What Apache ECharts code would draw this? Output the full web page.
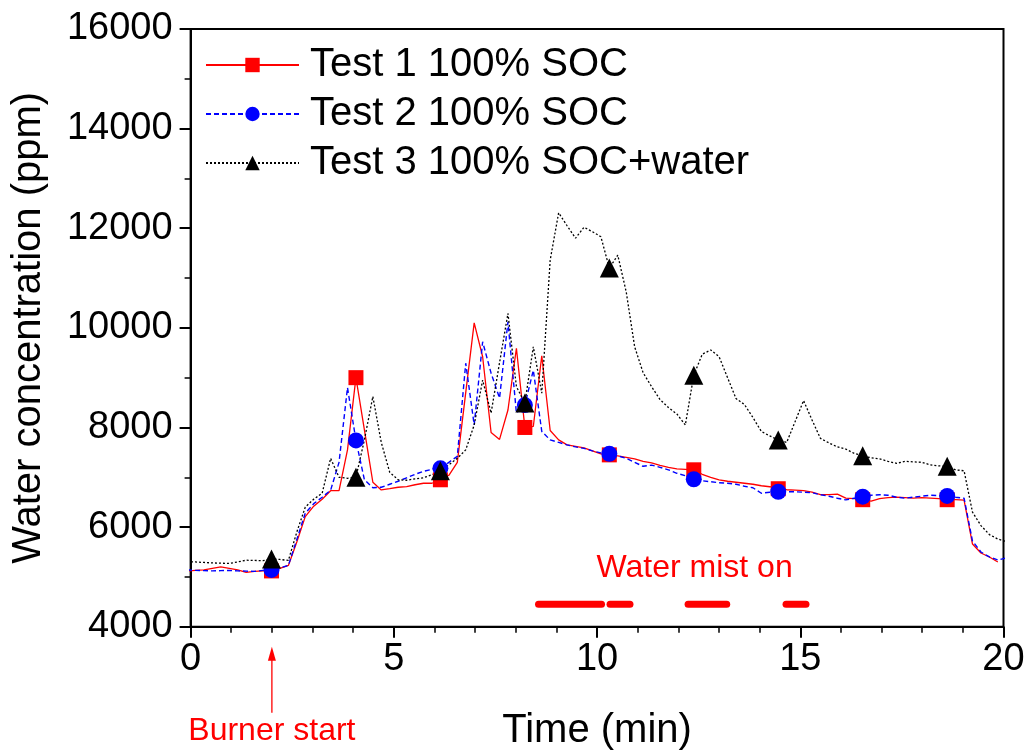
<!DOCTYPE html>
<html><head><meta charset="utf-8">
<script src="https://cdn.jsdelivr.net/npm/echarts@6/dist/echarts.min.js"></script>
<style>html,body{margin:0;padding:0;background:#fff}#c{width:1030px;height:751px}</style>
</head><body><div id="c"></div>
<script>
// ---- data ----
const time = [-0.088,0.120,0.328,0.535,0.743,0.951,1.159,1.367,1.574,1.782,
 1.990,2.198,2.406,2.613,2.821,3.029,3.237,3.445,3.652,3.860,
 4.068,4.276,4.484,4.691,4.899,5.107,5.315,5.523,5.730,5.938,
 6.146,6.354,6.562,6.769,6.977,7.185,7.393,7.601,7.808,8.016,
 8.224,8.432,8.640,8.847,9.055,9.263,9.471,9.679,9.886,10.094,
 10.302,10.510,10.718,10.925,11.133,11.341,11.549,11.757,11.964,12.172,
 12.380,12.588,12.796,13.003,13.211,13.419,13.627,13.835,14.042,14.250,
 14.458,14.666,14.874,15.081,15.289,15.497,15.705,15.913,16.120,16.328,
 16.536,16.744,16.952,17.159,17.367,17.575,17.783,17.991,18.198,18.406,
 18.614,18.822,19.030,19.237,19.445,19.653,19.861,20.069];

const test1 = [5120,5130,5140,5170,5200,5170,5140,5090,5110,5120,
 5120,5170,5230,5700,6210,6420,6560,6730,6730,7550,
 9000,7950,6900,6745,6770,6800,6811,6850,6880,6880,
 6950,7040,7300,8700,10100,9420,7900,7760,8350,9590,
 8000,8020,9440,7940,7750,7650,7620,7590,7530,7470,
 7450,7430,7400,7370,7320,7290,7240,7200,7170,7160,
 7150,7060,7000,6950,6920,6900,6880,6860,6830,6810,
 6770,6750,6740,6730,6700,6650,6650,6660,6580,6570,
 6550,6520,6570,6590,6600,6590,6580,6590,6580,6570,
 6550,6550,6540,5660,5480,5400,5300];

const test2 = [5140,5130,5125,5120,5125,5130,5120,5115,5110,5130,
 5140,5180,5230,5750,6280,6470,6600,6740,7300,8800,
 7740,6950,6790,6800,6860,6920,6990,7060,7120,7160,
 7180,7300,7420,9290,8050,9720,9090,8590,10120,8290,
 8450,9150,7920,7750,7700,7650,7610,7580,7530,7490,
 7470,7430,7380,7300,7220,7245,7200,7150,7080,7030,
 6960,6930,6910,6890,6880,6860,6820,6790,6680,6700,
 6710,6710,6710,6700,6690,6650,6620,6580,6545,6580,
 6610,6640,6650,6640,6600,6580,6600,6620,6640,6630,
 6625,6600,6580,5720,5500,5400,5340,5380];

const test3 = [5305,5300,5290,5280,5275,5270,5300,5335,5330,5325,
 5360,5350,5330,5900,6400,6560,6680,7380,7000,6980,
 7000,7750,8620,7700,7100,6950,6940,6970,6990,7050,
 7130,7250,7380,7550,8050,8950,8290,9300,10290,8820,
 8490,9620,8690,11360,12310,12050,11800,12020,11930,11830,
 11200,11460,10720,9620,9100,8820,8560,8400,8270,8050,
 9050,9470,9556,9420,9000,8580,8460,8200,7920,7830,
 7750,7700,8120,8540,8150,7780,7690,7610,7565,7480,
 7430,7390,7370,7320,7280,7320,7310,7300,7250,7230,
 7220,7150,7130,6300,6030,5850,5760,5710];

const markerIndex = [10,20,30,40,50,60,70,80,90];
const seriesNames = ['Test 1 100% SOC','Test 2 100% SOC','Test 3 100% SOC+water'];

const mistStart = [8.56, 10.32, 12.24, 14.65];
const mistEnd   = [10.11, 10.81, 13.19, 15.14];
const mistLevel = 4450;
const mistLabel = 'Water mist on';
const mistLabelAt = [12.40, 5180];
const burnerLabel = 'Burner start';
const burnerTime = 2.0;

const xTicks = {min:0, max:20, interval:5};
const yTicks = {min:4000, max:16000, interval:2000};

// ---- chart ----
const FONT = '"Liberation Sans", Arial, sans-serif';
const chart = echarts.init(document.getElementById('c'), null, {renderer:'canvas'});

function build(vals){
  return vals.map((v,i) => markerIndex.includes(i)
    ? {value:[time[i], v]}
    : {value:[time[i], v], symbol:'none'});
}

const mainSeries = [
  {name:seriesNames[0], vals:test1, color:'#ff0000', symbol:'rect', size:15, ls:{type:'solid', width:1.3}},
  {name:seriesNames[1], vals:test2, color:'#0000ff', symbol:'circle', size:16, ls:{type:[5,3], width:1.4}},
  {name:seriesNames[2], vals:test3, color:'#000000', symbol:'triangle', size:19, ls:{type:[2,2], width:1.3}}
].map(s => ({
  type:'line', name:s.name, data:build(s.vals),
  symbol:s.symbol, symbolSize:s.size, showSymbol:true, showAllSymbol:true,
  color:s.color, itemStyle:{color:s.color},
  lineStyle:Object.assign({color:s.color}, s.ls),
  clip:true, z:3
}));

const mistSeries = mistStart.map((s,k) => ({
  type:'line', name:'mist'+k, data:[[s, mistLevel],[mistEnd[k], mistLevel]],
  symbol:'none', lineStyle:{color:'#ff0000', width:7, cap:'round'}, z:2, silent:true
}));

const plain = v => String(v);

const axisCommon = {
  type:'value',
  axisLine:{show:true, onZero:false, lineStyle:{color:'#000', width:2}},
  axisTick:{show:true, inside:false, length:11, lineStyle:{color:'#000', width:2}},
  minorTick:{show:true, length:6, lineStyle:{color:'#000', width:1.5}},
  splitLine:{show:false},
  minorSplitLine:{show:false},
  axisLabel:{color:'#000', fontSize:38, fontFamily:FONT, formatter:plain},
  nameTextStyle:{color:'#000', fontSize:40, fontFamily:FONT},
  nameLocation:'middle'
};

chart.setOption({
  animation:false,
  backgroundColor:'#fff',
  grid:{left:190.6, right:26.5, top:29, bottom:124.3, show:true, borderColor:'#000', borderWidth:2,
        containLabel:false, outerBoundsMode:'none'},
  legend:{
    data:seriesNames, orient:'vertical', left:200, top:40,
    itemWidth:93, itemHeight:18, itemGap:9,
    textStyle:{color:'#000', fontSize:40, fontFamily:FONT, padding:[0,0,0,6]},
    selectedMode:false
  },
  xAxis:Object.assign({}, axisCommon, xTicks, {
    name:'Time (min)', nameGap:84,
    minorTick:Object.assign({}, axisCommon.minorTick, {splitNumber:5}),
    axisLabel:Object.assign({}, axisCommon.axisLabel, {margin:14})
  }),
  yAxis:Object.assign({}, axisCommon, yTicks, {
    name:'Water concentration (ppm)', nameGap:142,
    minorTick:Object.assign({}, axisCommon.minorTick, {splitNumber:2}),
    axisLabel:Object.assign({}, axisCommon.axisLabel, {margin:18})
  }),
  series:mainSeries.concat(mistSeries)
});

// annotations anchored to data coordinates
const pb = chart.convertToPixel({gridIndex:0}, [burnerTime, yTicks.min]);
const pm = chart.convertToPixel({gridIndex:0}, mistLabelAt);
chart.setOption({
  graphic:[
    {type:'line', shape:{x1:pb[0], y1:pb[1]+86, x2:pb[0], y2:pb[1]+30}, style:{stroke:'#ff0000', lineWidth:1.3}},
    {type:'polygon', shape:{points:[[pb[0], pb[1]+20],[pb[0]-4, pb[1]+34],[pb[0]+4, pb[1]+34]]}, style:{fill:'#ff0000'}},
    {type:'text', x:pb[0], y:pb[1]+104, style:{text:burnerLabel, fill:'#ff0000', font:'32px '+FONT, align:'center', verticalAlign:'middle'}},
    {type:'text', x:pm[0], y:pm[1], style:{text:mistLabel, fill:'#ff0000', font:'32px '+FONT, align:'center', verticalAlign:'middle'}}
  ]
});
</script>
</body></html>
